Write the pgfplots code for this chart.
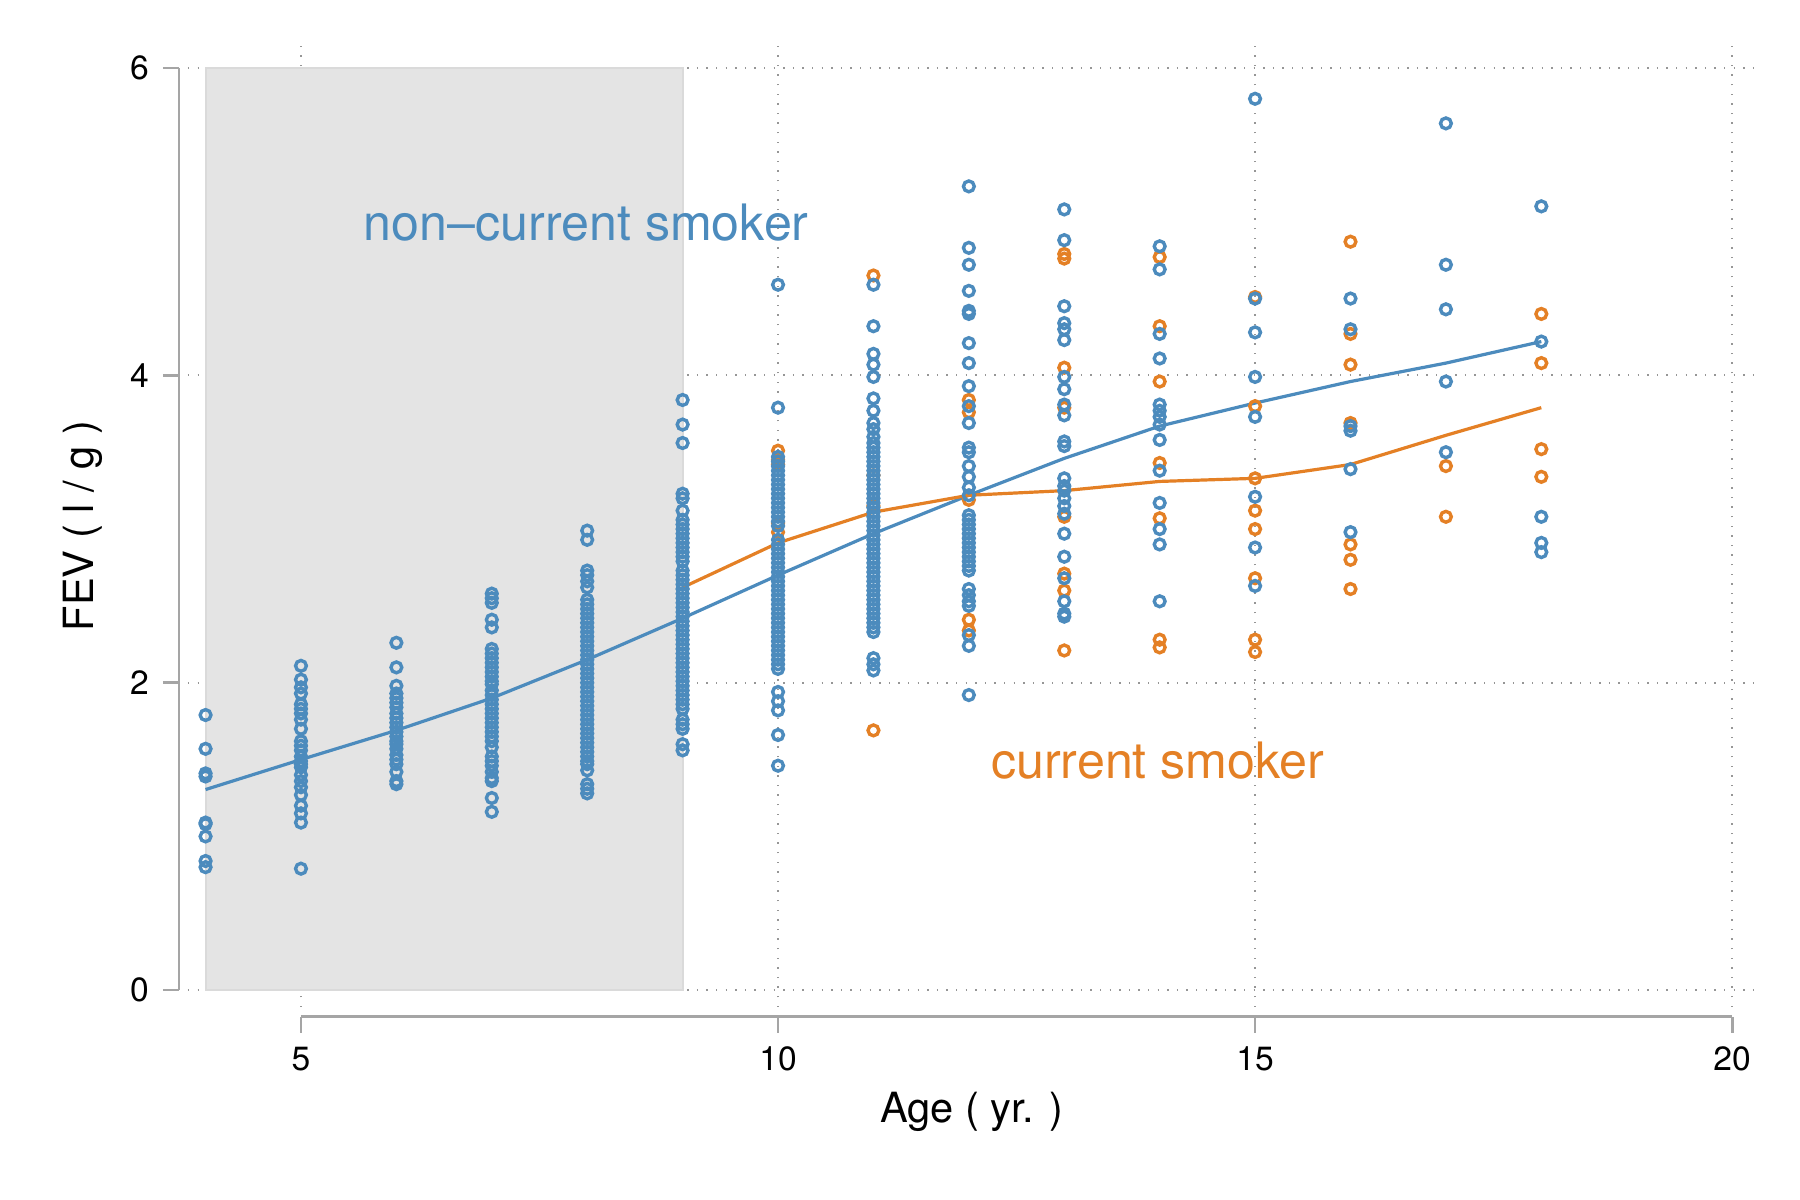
\documentclass[border=0pt]{standalone}
\usepackage{fontspec}
\setmainfont{TeX Gyre Heros}
\usepackage{pgfplots}
\pgfplotsset{compat=1.18}
\definecolor{cblue}{RGB}{76,139,189}
\definecolor{corange}{RGB}{228,128,37}
\definecolor{shade}{RGB}{228,228,228}
\definecolor{shadeedge}{RGB}{218,218,218}
\definecolor{axgray}{RGB}{165,165,165}
\definecolor{gridgray}{RGB}{150,150,150}
\begin{document}
\begin{tikzpicture}
\begin{axis}[
  name=main,
  scale only axis, width=392pt, height=240.5pt,
  xmin=3.816, xmax=20.25, ymin=-0.11, ymax=6.15,
  clip=false,
  axis x line*=bottom, axis y line*=left,
  axis x line shift=2.4pt, axis y line shift=2.25pt,
  axis line style={draw=none},
  xtick={5,10,15,20}, ytick={0,2,4,6},
  tick align=outside, major tick length=4pt,
  tick style={axgray, line width=0.7pt},
  grid=major,
  grid style={gridgray, line width=0.45pt, dash pattern=on 0.35pt off 2.05pt},
  /pgf/number format/assume math mode=true,
  ticklabel style={font=\fontsize{8.4}{10}\selectfont},
  xlabel={Age ( yr. )}, ylabel={FEV ( l / g )},
  label style={font=\fontsize{10.4}{12}\selectfont},
  xlabel style={at={(axis description cs:0.5,-0.1200)}, anchor=base},
  ylabel style={at={(axis description cs:-0.0605,0.5)}, anchor=base, rotate=0},
]
% shaded region
\addplot[fill=shade, draw=shadeedge, line width=0.5pt] coordinates {(4,0) (4,6) (9,6) (9,0)} -- cycle;
% axis lines offset (Stata style)
\draw[axgray, line width=0.7pt] ([yshift=-2.4pt]axis cs:5,-0.11) -- ([yshift=-2.4pt]axis cs:20,-0.11);
\draw[axgray, line width=0.7pt] ([xshift=-2.25pt]axis cs:3.816,0) -- ([xshift=-2.25pt]axis cs:3.816,6);
% current smokers
\addplot[only marks, mark=o, mark size=1.35pt, color=corange, mark options={line width=0.85pt}] coordinates {
(10,3.51)(10,3.45)(10,3.42)(10,3.04)(10,2.98)
(11,4.65)(11,3.35)(11,3.15)(11,1.69)
(12,3.84)(12,3.76)(12,3.19)(12,2.41)(12,2.34)
(13,4.79)(13,4.76)(13,4.05)(13,3.79)(13,3.08)(13,2.71)(13,2.60)(13,2.21)
(14,4.77)(14,4.32)(14,3.96)(14,3.43)(14,3.07)(14,2.28)(14,2.23)
(15,4.51)(15,3.80)(15,3.33)(15,3.12)(15,3.00)(15,2.68)(15,2.28)(15,2.20)
(16,4.87)(16,4.27)(16,4.07)(16,3.69)(16,2.90)(16,2.80)(16,2.61)
(17,3.41)(17,3.08)
(18,4.40)(18,4.08)(18,3.52)(18,3.34)
};
% non-current smokers
\addplot[only marks, mark=o, mark size=1.35pt, color=cblue, mark options={line width=0.85pt}] coordinates {
(4,1.79)(4,1.57)(4,1.41)(4,1.39)(4,1.09)(4,1.08)(4,1.00)(4,0.84)(4,0.80)
(5,2.11)(5,2.02)(5,1.97)(5,1.93)(5,1.86)(5,1.83)(5,1.80)(5,1.76)(5,1.70)(5,1.62)(5,1.59)(5,1.56)(5,1.52)(5,1.49)(5,1.47)(5,1.45)(5,1.40)(5,1.36)(5,1.32)(5,1.27)(5,1.20)(5,1.15)(5,1.09)(5,0.79)
(6,2.26)(6,2.10)(6,1.98)(6,1.93)(6,1.90)(6,1.87)(6,1.84)(6,1.80)(6,1.77)(6,1.74)(6,1.71)(6,1.68)(6,1.65)(6,1.62)(6,1.60)(6,1.57)(6,1.53)(6,1.50)(6,1.47)(6,1.42)(6,1.36)(6,1.34)
(7,2.58)(7,2.55)(7,2.52)(7,2.41)(7,2.36)(7,2.22)(7,2.19)(7,2.16)(7,2.13)(7,2.10)(7,2.07)(7,2.04)(7,2.01)(7,1.99)(7,1.95)(7,1.92)(7,1.89)(7,1.86)(7,1.83)(7,1.80)(7,1.77)(7,1.74)(7,1.71)(7,1.68)(7,1.65)(7,1.62)(7,1.58)(7,1.52)(7,1.49)(7,1.46)(7,1.42)(7,1.38)(7,1.36)(7,1.25)(7,1.16)
(8,2.99)(8,2.93)(8,2.73)(8,2.70)(8,2.66)(8,2.62)(8,2.54)(8,2.51)(8,2.48)(8,2.45)(8,2.42)(8,2.39)(8,2.36)(8,2.33)(8,2.30)(8,2.27)(8,2.24)(8,2.21)(8,2.18)(8,2.15)(8,2.12)(8,2.09)(8,2.06)(8,2.03)(8,2.00)(8,1.97)(8,1.94)(8,1.91)(8,1.88)(8,1.85)(8,1.82)(8,1.79)(8,1.76)(8,1.73)(8,1.70)(8,1.67)(8,1.64)(8,1.61)(8,1.58)(8,1.55)(8,1.52)(8,1.49)(8,1.47)(8,1.43)(8,1.34)(8,1.31)(8,1.28)
(9,3.84)(9,3.68)(9,3.56)(9,3.23)(9,3.20)(9,3.12)(9,3.06)(9,3.03)(9,3.00)(9,2.97)(9,2.94)(9,2.91)(9,2.88)(9,2.85)(9,2.82)(9,2.79)(9,2.73)(9,2.70)(9,2.67)(9,2.64)(9,2.61)(9,2.58)(9,2.55)(9,2.52)(9,2.49)(9,2.46)(9,2.43)(9,2.40)(9,2.37)(9,2.34)(9,2.31)(9,2.28)(9,2.25)(9,2.22)(9,2.19)(9,2.16)(9,2.13)(9,2.10)(9,2.07)(9,2.04)(9,2.01)(9,1.98)(9,1.95)(9,1.92)(9,1.89)(9,1.86)(9,1.83)(9,1.76)(9,1.73)(9,1.70)(9,1.60)(9,1.56)
(10,4.59)(10,3.79)(10,3.47)(10,3.44)(10,3.41)(10,3.38)(10,3.35)(10,3.32)(10,3.29)(10,3.26)(10,3.23)(10,3.20)(10,3.17)(10,3.14)(10,3.11)(10,3.08)(10,3.05)(10,3.02)(10,2.93)(10,2.90)(10,2.87)(10,2.84)(10,2.81)(10,2.78)(10,2.75)(10,2.72)(10,2.69)(10,2.66)(10,2.63)(10,2.60)(10,2.57)(10,2.54)(10,2.51)(10,2.48)(10,2.45)(10,2.42)(10,2.39)(10,2.36)(10,2.33)(10,2.30)(10,2.27)(10,2.24)(10,2.21)(10,2.18)(10,2.15)(10,2.12)(10,2.09)(10,1.94)(10,1.88)(10,1.82)(10,1.66)(10,1.46)
(11,4.59)(11,4.32)(11,4.14)(11,4.07)(11,3.99)(11,3.85)(11,3.77)(11,3.69)(11,3.65)(11,3.60)(11,3.56)(11,3.53)(11,3.50)(11,3.47)(11,3.44)(11,3.41)(11,3.38)(11,3.35)(11,3.32)(11,3.29)(11,3.26)(11,3.23)(11,3.20)(11,3.17)(11,3.14)(11,3.11)(11,3.08)(11,3.05)(11,3.02)(11,2.99)(11,2.96)(11,2.93)(11,2.90)(11,2.87)(11,2.84)(11,2.81)(11,2.78)(11,2.75)(11,2.72)(11,2.69)(11,2.66)(11,2.63)(11,2.60)(11,2.57)(11,2.54)(11,2.51)(11,2.48)(11,2.45)(11,2.42)(11,2.39)(11,2.36)(11,2.33)(11,2.16)(11,2.12)(11,2.08)
(12,5.23)(12,4.83)(12,4.72)(12,4.55)(12,4.42)(12,4.40)(12,4.21)(12,4.08)(12,3.93)(12,3.80)(12,3.69)(12,3.53)(12,3.50)(12,3.41)(12,3.34)(12,3.27)(12,3.22)(12,3.09)(12,3.06)(12,3.03)(12,3.00)(12,2.97)(12,2.94)(12,2.91)(12,2.88)(12,2.85)(12,2.82)(12,2.79)(12,2.76)(12,2.73)(12,2.61)(12,2.57)(12,2.53)(12,2.50)(12,2.31)(12,2.24)(12,1.92)
(13,5.08)(13,4.88)(13,4.45)(13,4.34)(13,4.30)(13,4.23)(13,3.99)(13,3.91)(13,3.81)(13,3.74)(13,3.57)(13,3.54)(13,3.33)(13,3.28)(13,3.25)(13,3.20)(13,3.15)(13,3.10)(13,2.97)(13,2.82)(13,2.68)(13,2.53)(13,2.45)(13,2.43)
(14,4.84)(14,4.69)(14,4.27)(14,4.11)(14,3.81)(14,3.77)(14,3.73)(14,3.68)(14,3.58)(14,3.38)(14,3.17)(14,3.00)(14,2.90)(14,2.53)
(15,5.80)(15,4.50)(15,4.28)(15,3.99)(15,3.73)(15,3.21)(15,2.88)(15,2.63)
(16,4.50)(16,4.30)(16,3.67)(16,3.64)(16,3.39)(16,2.98)
(17,5.64)(17,4.72)(17,4.43)(17,3.96)(17,3.50)
(18,5.10)(18,4.22)(18,3.08)(18,2.91)(18,2.85)
};
% smoothed lines
\addplot[color=cblue, line width=0.8pt, mark=none] coordinates {
(4,1.305)(5,1.50)(6,1.69)(7,1.90)(8,2.15)(9,2.42)(10,2.70)(11,2.97)(12,3.22)(13,3.46)(14,3.67)(15,3.82)(16,3.96)(17,4.08)(18,4.22)};
\addplot[color=corange, line width=0.8pt, mark=none] coordinates {
(9,2.62)(10,2.91)(11,3.11)(12,3.22)(13,3.25)(14,3.31)(15,3.33)(16,3.42)(17,3.61)(18,3.79)};
\node[text=cblue, font=\fontsize{12.55}{14}\selectfont, anchor=base, inner sep=0pt] at (axis cs:7.99,4.88) {non–current smoker};
\node[text=corange, font=\fontsize{12.55}{14}\selectfont, anchor=base, inner sep=0pt] at (axis cs:13.98,1.378) {current smoker};
\end{axis}
\pgfresetboundingbox
\path ([shift={(-47pt,-48.25pt)}]main.south west) rectangle ([shift={(11pt,11.25pt)}]main.north east);
\end{tikzpicture}
\end{document}
